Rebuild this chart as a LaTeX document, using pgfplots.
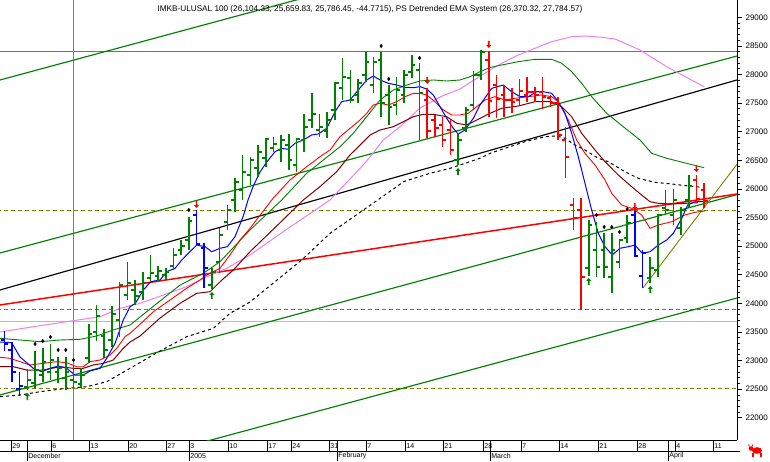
\documentclass[border=0pt]{standalone}
\usepackage{pgfplots}
\pgfplotsset{compat=1.18}
\usepackage{pgfplotstable}
\usepackage{fontspec}
\setmainfont{Liberation Sans}
\definecolor{gr}{RGB}{0,128,0}
\definecolor{rd}{RGB}{255,0,0}
\definecolor{bl}{RGB}{0,0,255}
\definecolor{dkred}{RGB}{128,0,0}
\definecolor{pinkc}{RGB}{240,128,240}
\definecolor{olivec}{RGB}{128,128,0}
\definecolor{orangec}{RGB}{255,170,100}
\definecolor{greyc}{RGB}{128,128,128}
\newcommand\tinyf{\fontsize{7}{8}\selectfont}
\pgfdeclareplotmark{otick}{\pgfpathmoveto{\pgfqpoint{-3.6pt}{0pt}}\pgfpathlineto{\pgfqpoint{0pt}{0pt}}\pgfusepathqstroke}
\pgfdeclareplotmark{ctick}{\pgfpathmoveto{\pgfqpoint{0pt}{0pt}}\pgfpathlineto{\pgfqpoint{3.6pt}{0pt}}\pgfusepathqstroke}
\pgfdeclareplotmark{dnarrow}{\pgfpathmoveto{\pgfqpoint{0pt}{0pt}}\pgfpathlineto{\pgfqpoint{-2.6pt}{3pt}}\pgfpathlineto{\pgfqpoint{-0.8pt}{3pt}}\pgfpathlineto{\pgfqpoint{-0.8pt}{7pt}}\pgfpathlineto{\pgfqpoint{0.8pt}{7pt}}\pgfpathlineto{\pgfqpoint{0.8pt}{3pt}}\pgfpathlineto{\pgfqpoint{2.6pt}{3pt}}\pgfpathclose\pgfusepathqfill}
\pgfdeclareplotmark{uparrow}{\pgfpathmoveto{\pgfqpoint{0pt}{0pt}}\pgfpathlineto{\pgfqpoint{-2.6pt}{-3pt}}\pgfpathlineto{\pgfqpoint{-0.8pt}{-3pt}}\pgfpathlineto{\pgfqpoint{-0.8pt}{-7pt}}\pgfpathlineto{\pgfqpoint{0.8pt}{-7pt}}\pgfpathlineto{\pgfqpoint{0.8pt}{-3pt}}\pgfpathlineto{\pgfqpoint{2.6pt}{-3pt}}\pgfpathclose\pgfusepathqfill}

\pgfplotstableread{
k H L O C
3 22852 22485 22537 22660
4 23167 22520 22607 22834
5 23219 22625 22747 22974
6 23289 22660 22799 23009
7 23062 22607 22799 22869
8 23062 22485 22695 22799
9 22922 22520 22660 22625
10 22869 22520 22590 22747
11 23638 22957 23044 23464
12 23971 23341 23499 23778
13 23551 23044 23429 23184
14 23953 23236 23359 23813
15 24373 23411 23708 24320
16 24722 24058 24145 24355
17 24408 23971 24233 24128
18 24547 24058 24198 24355
19 24845 24373 24443 24530
20 24652 24373 24478 24565
21 24617 24408 24495 24547
22 24967 24582 24652 24845
23 25107 24845 24932 25002
24 25509 24932 25107 25439
27 24617 24250 24320 24547
28 25317 24530 24722 25194
29 25719 25282 25421 25631
30 26191 25596 25806 26121
31 26593 25806 25981 26295
32 26558 26068 26243 26505
33 26767 26208 26365 26645
34 26890 26383 26540 26872
35 26907 26645 26715 26785
36 26942 26470 26680 26855
37 26960 26330 26767 26505
38 26890 26295 26418 26872
39 27309 26645 26855 27082
40 27676 27065 27204 27309
41 27309 26907 27030 27082
42 27344 26890 27012 27204
43 27869 27204 27379 27851
44 28288 27554 27764 27956
45 28078 27502 27939 27554
46 27921 27502 27641 27851
47 28393 27869 27991 28218
48 28306 27676 27816 28218
49 28393 27257 28253 27502
50 27816 27117 27641 27432
51 27956 27292 27467 27729
52 28078 27502 27641 27991
53 28341 27939 28043 28166
54 28201 26855 28078 27676
59 26977 26418 26505 26855
60 27432 26995 27065 27379
61 28061 27379 27467 27991
62 28428 27904 27991 28393
76 25456 24478 24617 25369
77 25421 24460 24932 24635
78 25229 24443 24932 24635
79 25229 24180 24460 24932
80 25124 24617 24722 25107
81 25544 25054 25142 25404
84 24810 24355 24443 24617
85 25561 24460 24582 25544
86 25981 25544 25666 25631
87 25998 25369 25544 25806
88 25684 25194 25317 25631
89 26243 25666 25806 26051
}\gbars

\pgfplotstableread{
k H L O C
55 27764 26890 27554 27012
56 27292 26907 27204 27065
57 27257 26732 27117 26855
58 27204 26593 27030 26680
63 28410 27257 28253 27537
64 27991 27239 27816 27571
65 27816 27257 27641 27554
66 27764 27327 27554 27519
67 27921 27467 27554 27711
68 27956 27519 27641 27694
69 27781 27519 27694 27641
70 27956 27397 27694 27606
71 27641 27432 27589 27502
72 27606 26855 27502 26942
73 27082 26191 26855 26558
74 25841 25282 25719 25491
75 25841 23883 25631 24460
90 26243 25754 26156 25831
91 26104 25660 25981 25786
}\rbars

\pgfplotstableread{
k H L O C
0 23516 23167 23359 23289
1 23324 22625 23184 22799
2 22799 22380 22502 22555
25 25631 25019 25544 25037
26 25054 24268 24967 24617
82 25614 24810 25544 24827
83 24932 24268 24478 24880
}\bbars

\pgfplotstableread{
k P
4 23289
5 23341
6 23411
7 23184
8 23184
9 23009
24 25631
49 28498
50 27921
54 28288
77 25544
78 25334
79 25334
80 25247
81 25649
}\dots

\pgfplotstableread{
k P
25 25666
55 27834
63 28463
82 25631
90 26295
}\sellarrows

\pgfplotstableread{
k P
3 22432
27 24198
59 26365
76 24443
84 24303
}\buyarrows

\begin{document}
\begin{tikzpicture}[x=1pt,y=1pt]
\useasboundingbox (0,-21) rectangle (770,440);
\fill[white] (0,-21) rectangle (770,440);
\begin{axis}[
  at={(0,0)}, anchor=south west,
  scale only axis, width=737pt, height=440pt,
  xmin=-0.56, xmax=95.28, ymin=21611, ymax=29302,
  axis x line*=bottom, axis y line*=right,
  axis line style={line width=0.8pt, black},
  xtick=\empty,
  ytick={22000,22500,...,29000},
  minor y tick num=4,
  scaled y ticks=false,
  tick align=outside,
  major tick length=5pt, minor tick length=3pt,
  tick style={black, line width=0.7pt},
  yticklabel style={font=\fontsize{8}{9}\selectfont, xshift=0pt},
  /pgf/number format/1000 sep={},
  /pgf/number format/assume math mode=true,
]
% horizontal lines
\addplot[olivec, line width=1pt, forget plot] coordinates {(-1,28402) (96,28402)};
\addplot[olivec, line width=1pt, dash pattern=on 4pt off 3pt, forget plot] coordinates {(-1,25622) (96,25622)};
\addplot[olivec, line width=1pt, dash pattern=on 4pt off 3pt, forget plot] coordinates {(-1,23892) (96,23892)};
\addplot[olivec, line width=1pt, dash pattern=on 4pt off 3pt, forget plot] coordinates {(-1,22511) (96,22511)};
\addplot[orangec, line width=1pt, forget plot] coordinates {(-1,23682) (96,23682)};
\addplot[greyc, line width=1.1pt, forget plot] coordinates {(9,21611) (9,29302)};
% trend lines
\addplot[gr, line width=1.15pt, forget plot] coordinates {(-0.56,27904) (95.28,31382)};
\addplot[gr, line width=1.15pt, forget plot] coordinates {(-0.56,24880) (95.28,28323)};
\addplot[gr, line width=1.15pt, forget plot] coordinates {(-0.56,22398) (95.28,25900)};
\addplot[gr, line width=1.15pt, forget plot] coordinates {(-0.56,20615) (95.28,24093)};
\addplot[black, line width=1.15pt, forget plot] coordinates {(-0.56,24233) (95.28,27904)};
\addplot[rd, line width=1.5pt, forget plot] coordinates {(-0.56,23971) (95.28,25911)};
\addplot[olivec, line width=0.9pt, forget plot] coordinates {(83.06,24268) (95.4,26453)};
% moving averages
\addplot[pinkc, line width=1pt, forget plot] coordinates {(-0.56,23499) (3.77,23591) (8.11,23679) (12.44,23766) (15.05,23913) (17.65,24000) (20.68,24145) (23.72,24291) (26.32,24465) (28.92,24612) (31.95,24845) (37.15,25334) (42.36,25806) (46.26,26360) (47.56,26558) (49.28,26855) (51.46,27087) (54.06,27414) (56.66,27607) (59.26,27747) (61.43,27933) (63.16,28078) (64.68,28196) (66.84,28341) (69.01,28458) (71.18,28573) (73.78,28661) (75.51,28673) (77.68,28650) (79.42,28620) (82.66,28428) (86.14,28136) (91,27785)};
\addplot[black, line width=1pt, dash pattern=on 3pt off 3pt, forget plot] coordinates {(-0.56,22368) (2.04,22397) (4.64,22455) (8.11,22515) (10.72,22543) (13.32,22630) (16.35,22864) (20.25,23167) (23.72,23417) (27.18,23563) (29.35,23825) (31.95,24023) (38.67,24757) (42.36,25224) (46.69,25631) (51.03,26039) (51.89,26126) (55.36,26273) (57.96,26360) (61.86,26535) (63.16,26622) (65.11,26710) (67.71,26825) (70.31,26913) (71.83,26925) (72.91,26885) (74.21,26767) (75.51,26680) (77.24,26535) (78.54,26476) (80.71,26301) (82.44,26185) (84.61,26115) (86.78,26086) (88.94,26051) (90.68,26028)};
\addplot[gr, line width=0.9pt, forget plot] coordinates {(-0.56,23389) (2.04,23359) (4.64,23329) (7.24,23359) (9.84,23371) (12.02,23429) (14.17,23534) (16.35,23621) (18.95,23901) (22.85,24320) (25.88,24525) (28.05,24728) (31.95,25282) (36.07,25806) (39.32,26273) (41.48,26505) (43.66,26738) (45.38,26972) (47.56,27336) (48.86,27554) (50.59,27729) (52.33,27816) (54.06,27886) (55.79,27904) (57.53,27886) (59.26,27904) (60.56,27961) (61.86,28049) (63.16,28122) (64.68,28166) (66.84,28224) (69.01,28265) (71.18,28265) (72.48,28196) (73.78,28049) (75.08,27846) (76.38,27612) (78.33,27322) (80.49,27087) (82.66,26855) (84.18,26622) (86.14,26535) (87.87,26476) (89.6,26418) (91,26370)};
\addplot[dkred, line width=1pt, forget plot] coordinates {(-0.56,22892) (1.17,22892) (2.91,22834) (5.07,22834) (7.24,22892) (8.97,22864) (10.27,22864) (11.57,22922) (12.87,22951) (14.17,23009) (15.47,23214) (16.35,23324) (17.65,23429) (20.25,23743) (22.85,24000) (25.02,24175) (26.75,24203) (28.05,24378) (29.78,24582) (31.95,24902) (35.42,25352) (38.88,25806) (41.05,26039) (43.22,26301) (44.96,26593) (46.26,26767) (47.56,26942) (48.86,27030) (50.59,27087) (51.89,27175) (53.19,27262) (54.49,27304) (55.79,27304) (57.53,27262) (58.83,27147) (60.13,27117) (61.43,27204) (63.16,27322) (64.68,27409) (66.84,27449) (69.01,27524) (71.18,27524) (72.48,27437) (73.78,27262) (75.08,26972) (76.81,26680) (78.11,26476) (79.84,26243) (81.58,26039) (82.88,25893) (83.97,25777) (85.04,25748) (86.78,25736) (88.51,25748) (90.2,25759)};
\addplot[rd, line width=0.9pt, forget plot] coordinates {(-0.56,23056) (0.74,23039) (2.04,22980) (3.34,22922) (5.07,22951) (6.81,22980) (8.11,22962) (9.41,22892) (10.27,22892) (11.14,22980) (12.44,23009) (13.75,23097) (14.62,23214) (15.7,23417) (16.35,23476) (17.22,23580) (19.38,23853) (21.55,24058) (23.72,24263) (25.45,24408) (26.32,24495) (28.05,24612) (29.35,24845) (30.65,25107) (31.95,25311) (34.98,25841) (37.15,26156) (39.32,26388) (41.05,26563) (42.36,26680) (43.66,26913) (44.96,27059) (46.26,27204) (47.13,27322) (47.98,27467) (48.86,27496) (49.93,27467) (51.03,27524) (52.11,27612) (53.19,27671) (54.06,27671) (54.93,27641) (56.01,27524) (57.09,27379) (58.18,27292) (59.26,27292) (60.34,27322) (61.43,27437) (62.51,27554) (63.81,27612) (65.11,27554) (66.41,27584) (68.14,27612) (69.88,27641) (71.18,27612) (72.04,27524) (73.34,27204) (74.43,26855) (75.51,26622) (76.81,26418) (78.11,26156) (78.98,25923) (80.28,25719) (81.58,25661) (82.88,25544) (83.97,25311) (85.04,25369) (86.78,25427) (88.51,25544) (89.82,25591) (91.12,25614)};
\addplot[bl, line width=1pt, forget plot] coordinates {(-0.56,23324) (0.96,23312) (2.04,23062) (3.77,22864) (4.86,22805) (5.94,22864) (7.02,22904) (8.11,22864) (9.19,22747) (10.27,22747) (11.14,22817) (12.44,22864) (13.32,23039) (14.4,23301) (15.47,23708) (16.35,23941) (17.04,24000) (18.08,24233) (19.04,24378) (20.25,24408) (21.12,24553) (22.2,24612) (23.07,24757) (23.93,24874) (25.02,25019) (26.1,24990) (26.97,24902) (28.05,24962) (29.0,24990) (30.0,25165) (31.08,25526) (31.69,25806) (32.38,26051) (33.25,26295) (34.12,26470) (35.2,26650) (36.07,26710) (36.93,26692) (37.8,26797) (38.88,26855) (39.97,26942) (40.83,26960) (41.92,27059) (43.0,27349) (43.87,27524) (44.95,27554) (46.03,27729) (47.13,27904) (47.98,27974) (48.86,27904) (49.93,27846) (51.03,27816) (52.11,27776) (53.19,27769) (54.06,27787) (54.93,27746) (55.79,27641) (56.66,27437) (57.53,27234) (58.39,27059) (59.04,26960) (59.91,27030) (60.99,27234) (61.86,27467) (63.38,27758) (64.89,27816) (65.98,27699) (67.06,27612) (68.14,27612) (69.23,27699) (70.09,27699) (71.18,27671) (72.04,27524) (72.91,27322) (73.78,26972) (74.64,26563) (75.51,26098) (76.38,25631) (77.24,25224) (78.11,24990) (79.06,24845) (80.06,24962) (81.14,24990) (82.01,25019) (82.96,24874) (83.97,24902) (85.04,25019) (86.14,25107) (87.0,25224) (88.09,25486) (88.87,25719) (89.82,25776) (91.12,25776)};
% bars
\addplot[draw=none, mark=none, forget plot, error bars/.cd, y dir=minus, y explicit, error mark=none, error bar style={draw=gr, line width=1.6pt}] table[x=k, y=H, y error expr=\thisrow{H}-\thisrow{L}] {\gbars};
\addplot[only marks, mark=otick, mark options={draw=gr, line width=1.3pt}, forget plot] table[x=k, y=O] {\gbars};
\addplot[only marks, mark=ctick, mark options={draw=gr, line width=1.3pt}, forget plot] table[x=k, y=C] {\gbars};
\addplot[draw=none, mark=none, forget plot, error bars/.cd, y dir=minus, y explicit, error mark=none, error bar style={draw=rd, line width=1.6pt}] table[x=k, y=H, y error expr=\thisrow{H}-\thisrow{L}] {\rbars};
\addplot[only marks, mark=otick, mark options={draw=rd, line width=1.3pt}, forget plot] table[x=k, y=O] {\rbars};
\addplot[only marks, mark=ctick, mark options={draw=rd, line width=1.3pt}, forget plot] table[x=k, y=C] {\rbars};
\addplot[draw=none, mark=none, forget plot, error bars/.cd, y dir=minus, y explicit, error mark=none, error bar style={draw=bl, line width=1.6pt}] table[x=k, y=H, y error expr=\thisrow{H}-\thisrow{L}] {\bbars};
\addplot[only marks, mark=otick, mark options={draw=bl, line width=1.3pt}, forget plot] table[x=k, y=O] {\bbars};
\addplot[only marks, mark=ctick, mark options={draw=bl, line width=1.3pt}, forget plot] table[x=k, y=C] {\bbars};
% signals
\addplot[only marks, mark=diamond*, mark size=1.7pt, black, forget plot] table[x=k, y=P] {\dots};
\addplot[only marks, mark=dnarrow, rd, mark options={fill=rd, draw=none}, forget plot] table[x=k, y=P] {\sellarrows};
\addplot[only marks, mark=uparrow, gr, mark options={fill=gr, draw=none}, forget plot] table[x=k, y=P] {\buyarrows};
\end{axis}
% title
\node[font=\fontsize{8.2}{9}\selectfont, inner sep=0pt] at (370,430.5) {IMKB-ULUSAL 100 (26,104.33, 25,659.83, 25,786.45, -44.7715), PS Detrended EMA System (26,370.32, 27,784.57)};
% date strip
\draw[line width=0.8pt] (0,-11) -- (740,-11);
\foreach \x/\t in {11/29, 51/6, 89/13, 128/20, 166/27, 189/3, 228/10, 267/17, 291/24, 329/31, 366/7, 405/14, 443/21, 483/28, 521/7, 559/14, 598/21, 637/28, 675/4, 713/11} {
  \draw[line width=0.8pt] (\x,0) -- (\x,-11);
  \node[anchor=west, xshift=1.2pt, inner sep=0pt, font=\tinyf] at (\x,-5.6) {\t};
}
\foreach \x/\t in {27/December, 189/2005, 337/February, 490/March, 668/April} {
  \draw[line width=0.8pt] (\x,0) -- (\x,-21);
  \node[anchor=west, xshift=1.2pt, inner sep=0pt, font=\tinyf] at (\x,-16) {\t};
}
% small bull icon
\fill[red] (757,-10.5) ellipse (5 and 3.3);
\fill[red] (751,-8.5) circle (2.3);
\draw[red, line width=1.1pt] (753,-13) -- (753,-16.5) (761,-13) -- (761,-16.5);
\draw[red, line width=0.8pt] (749.5,-6.5) -- (748.5,-4.5) (752,-6.5) -- (753,-4.5);
\end{tikzpicture}
\end{document}
